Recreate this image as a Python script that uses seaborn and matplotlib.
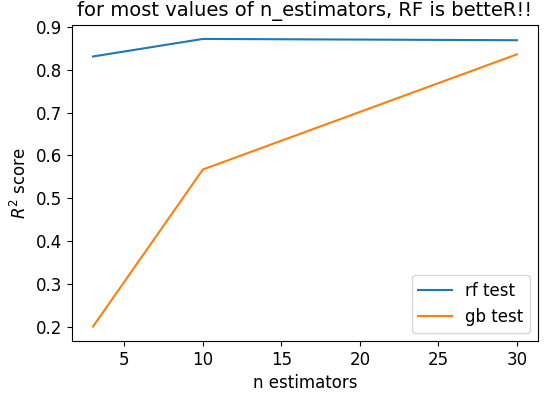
import matplotlib
matplotlib.use("Agg")
import matplotlib.pyplot as plt
import pandas as pd
import seaborn as sns

n_estimators = [3, 10, 30]
rf_test = [0.831, 0.872, 0.869]
gb_test = [0.200, 0.567, 0.836]

df = pd.DataFrame({
    "n_estimators": n_estimators * 2,
    "score": rf_test + gb_test,
    "model": ["rf test"] * 3 + ["gb test"] * 3,
})

plt.rcParams["font.size"] = 12
fig, ax = plt.subplots(figsize=(5.48, 3.96), dpi=100)
sns.lineplot(data=df, x="n_estimators", y="score", hue="model",
             palette=["#1f77b4", "#ff7f0e"], ax=ax)
ax.set_title("for most values of n_estimators, RF is betteR!!", fontsize=14)
ax.set_xlabel("n estimators")
ax.set_ylabel("$R^2$ score")
ax.legend(loc="lower right", title=None)
fig.subplots_adjust(left=0.131, right=0.982, top=0.938, bottom=0.139)
plt.savefig("out.png")
plt.close()
